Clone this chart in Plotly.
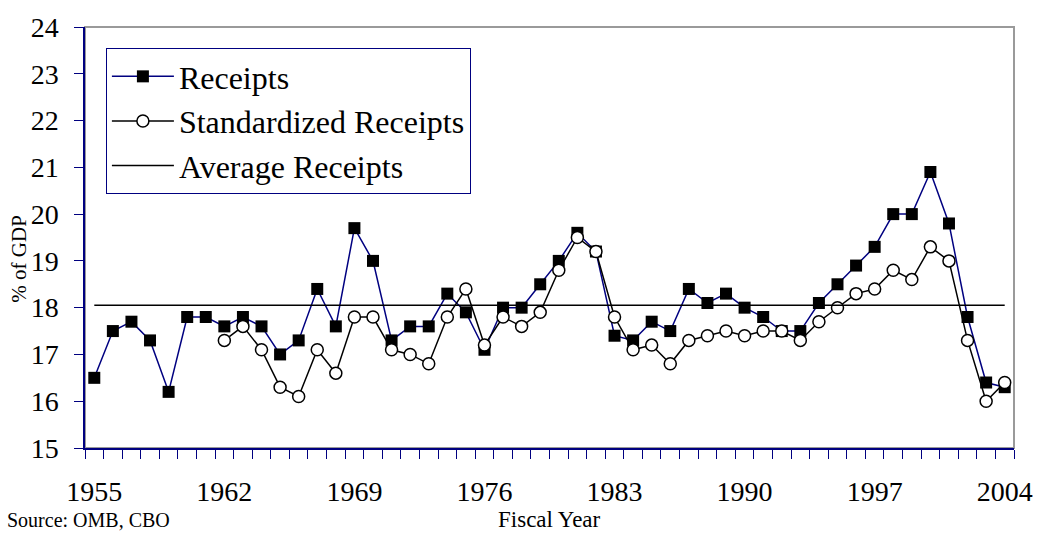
import plotly.graph_objects as go

# fiscal years 1955-2004
years = list(range(1955, 2005))

# receipts, % of GDP
receipts = [16.5, 17.5, 17.7, 17.3, 16.2, 17.8, 17.8, 17.6, 17.8, 17.6,
            17.0, 17.3, 18.4, 17.6, 19.7, 19.0, 17.3, 17.6, 17.6, 18.3,
            17.9, 17.1, 18.0, 18.0, 18.5, 19.0, 19.6, 19.2, 17.4, 17.3,
            17.7, 17.5, 18.4, 18.1, 18.3, 18.0, 17.8, 17.5, 17.5, 18.1,
            18.5, 18.9, 19.3, 20.0, 20.0, 20.9, 19.8, 17.8, 16.4, 16.3]

# standardized receipts (series starts 1962)
std_receipts = [None] * 7 + [
            17.3, 17.6, 17.1, 16.3, 16.1, 17.1, 16.6, 17.8, 17.8, 17.1,
            17.0, 16.8, 17.8, 18.4, 17.2, 17.8, 17.6, 17.9, 18.8, 19.5,
            19.2, 17.8, 17.1, 17.2, 16.8, 17.3, 17.4, 17.5, 17.4, 17.5,
            17.5, 17.3, 17.7, 18.0, 18.3, 18.4, 18.8, 18.6, 19.3, 19.0,
            17.3, 16.0, 16.4]

avg_receipts = 18.05

year_labels = [1955, 1962, 1969, 1976, 1983, 1990, 1997, 2004]

NAVY = '#000080'
FONT = 'Liberation Serif'

fig = go.Figure()

fig.add_trace(go.Scatter(
    x=years, y=receipts, name='Receipts', mode='lines+markers',
    line=dict(color=NAVY, width=1.5),
    marker=dict(symbol='square', size=12, color='black', line=dict(width=0)),
))
fig.add_trace(go.Scatter(
    x=years, y=std_receipts, name='Standardized Receipts', mode='lines+markers',
    line=dict(color='black', width=1.5),
    marker=dict(symbol='circle', size=12, color='white', line=dict(color='black', width=1.5)),
))
fig.add_trace(go.Scatter(
    x=[years[0], years[-1]], y=[avg_receipts, avg_receipts], name='Average Receipts',
    mode='lines', line=dict(color='black', width=1.5),
))

# grey frame on top/right, navy axes drawn over it
fig.add_shape(type='rect', xref='paper', yref='paper', x0=0, y0=0, x1=1, y1=1,
              line=dict(color='#9a9a9a', width=2), layer='below')

fig.update_xaxes(
    range=[1954.5, 2004.5], tickvals=year_labels, ticks='', showgrid=False,
    showline=True, linecolor=NAVY, linewidth=1.5, zeroline=False,
    tickfont=dict(family=FONT, size=28, color='black'), ticklabelstandoff=18,
    minor=dict(tick0=1954.5, dtick=1, ticks='outside', ticklen=9,
               tickcolor=NAVY, tickwidth=1.2, showgrid=False),
)
fig.update_yaxes(
    range=[15, 24], dtick=1, ticks='outside', ticklen=9, tickcolor=NAVY, tickwidth=1.2,
    showgrid=False, showline=True, linecolor=NAVY, linewidth=1.5, zeroline=False,
    tickfont=dict(family=FONT, size=28, color='black'), ticklabelstandoff=10,
)

fig.add_annotation(text='% of GDP', xref='paper', yref='paper', x=-0.072, y=0.45,
                   textangle=-90, showarrow=False, xanchor='center', yanchor='middle',
                   font=dict(family=FONT, size=21, color='black'))
fig.add_annotation(text='Fiscal Year', xref='paper', yref='paper', x=0.5, y=-0.17,
                   showarrow=False, xanchor='center', yanchor='middle',
                   font=dict(family=FONT, size=23, color='black'))
fig.add_annotation(text='Source: OMB, CBO', xref='paper', yref='paper', x=-0.086, y=-0.171,
                   showarrow=False, xanchor='left', yanchor='middle',
                   font=dict(family=FONT, size=20, color='black'))

fig.update_layout(
    width=1045, height=533,
    margin=dict(l=85, r=25, t=21, b=85),
    plot_bgcolor='white', paper_bgcolor='white',
    legend=dict(x=0.0225, y=0.95, xanchor='left', yanchor='top',
                bgcolor='white', bordercolor=NAVY, borderwidth=1,
                font=dict(family=FONT, size=32, color='black'),
                itemwidth=62, tracegroupgap=0),
    showlegend=True,
)

# drop the page's default body margin so the figure sits at 0,0
fig.write_html("out.html", config={'displayModeBar': False},
               post_script="document.body.style.margin='0';"
                           "document.documentElement.style.overflow='hidden';")
